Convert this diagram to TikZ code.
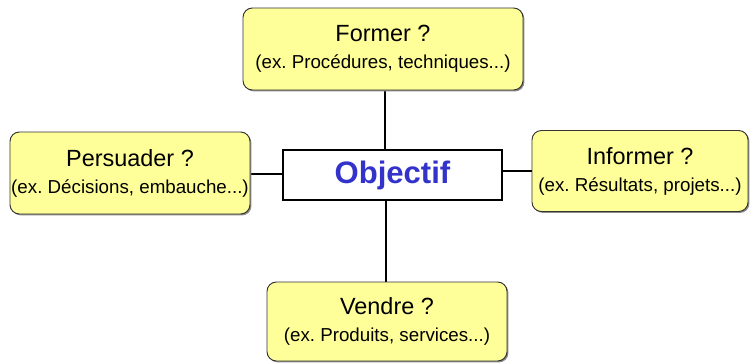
\documentclass[tikz,border=0pt]{standalone}
\usepackage{fontspec}
\setmainfont{Liberation Sans}
\usetikzlibrary{shadows}
\pgfdeclarelayer{edgelayer}
\pgfdeclarelayer{nodelayer}
\pgfsetlayers{edgelayer,nodelayer,main}
\definecolor{boxyellow}{HTML}{FFFF99}
\definecolor{titleblue}{HTML}{3333CC}
\tikzstyle{goal}=[draw=black!80,fill=boxyellow,rounded corners=8pt,line width=0.8pt,align=center,inner sep=0pt,font=\fontsize{20}{24}\selectfont,drop shadow={shadow xshift=1.2pt,shadow yshift=-1.2pt,fill=black!45,opacity=1}]
\tikzstyle{center_box}=[draw=black,fill=white,line width=1.2pt,inner sep=0pt,font=\fontsize{26.5}{30}\selectfont\bfseries,text=titleblue]
\tikzstyle{link}=[draw=black,line width=1.6pt]
\newcommand{\sub}[1]{\\[-1pt]{\fontsize{16}{18}\selectfont #1}}
\frenchspacing

\begin{document}
\begin{tikzpicture}[x=0.03cm,y=-0.03cm]
	\useasboundingbox (0,0) rectangle (750,363);
	\begin{pgfonlayer}{nodelayer}
		\node [style=center_box,minimum width=219*0.03cm,minimum height=50*0.03cm] (obj) at (392.5, 175) {Objectif};
		\node [style=goal,minimum width=280*0.03cm,minimum height=82*0.03cm] (former) at (383, 49) {Former ?\sub{(ex. Procédures, techniques...)}};
		\node [style=goal,minimum width=240*0.03cm,minimum height=82*0.03cm] (persuader) at (130, 173) {Persuader ?\sub{(ex. Décisions, embauche...)}};
		\node [style=goal,minimum width=216*0.03cm,minimum height=81*0.03cm] (informer) at (640, 171) {Informer ?\sub{(ex. Résultats, projets...)}};
		\node [style=goal,minimum width=240*0.03cm,minimum height=79*0.03cm] (vendre) at (387, 321.5) {Vendre ?\sub{(ex. Produits, services...)}};
	\end{pgfonlayer}
	\begin{pgfonlayer}{edgelayer}
		\draw [style=link] ([xshift=2*0.03cm]former.south) -- ([xshift=2*0.03cm]former.south |- obj.north);
		\draw [style=link] ([xshift=-1*0.03cm]vendre.north) -- ([xshift=-1*0.03cm]vendre.north |- obj.south);
		\draw [style=link] ([yshift=-1*0.03cm]persuader.east) -- ([yshift=-1*0.03cm]persuader.east -| obj.west);
		\draw [style=link] (informer.west) -- (informer.west -| obj.east);
	\end{pgfonlayer}
\end{tikzpicture}
\end{document}
